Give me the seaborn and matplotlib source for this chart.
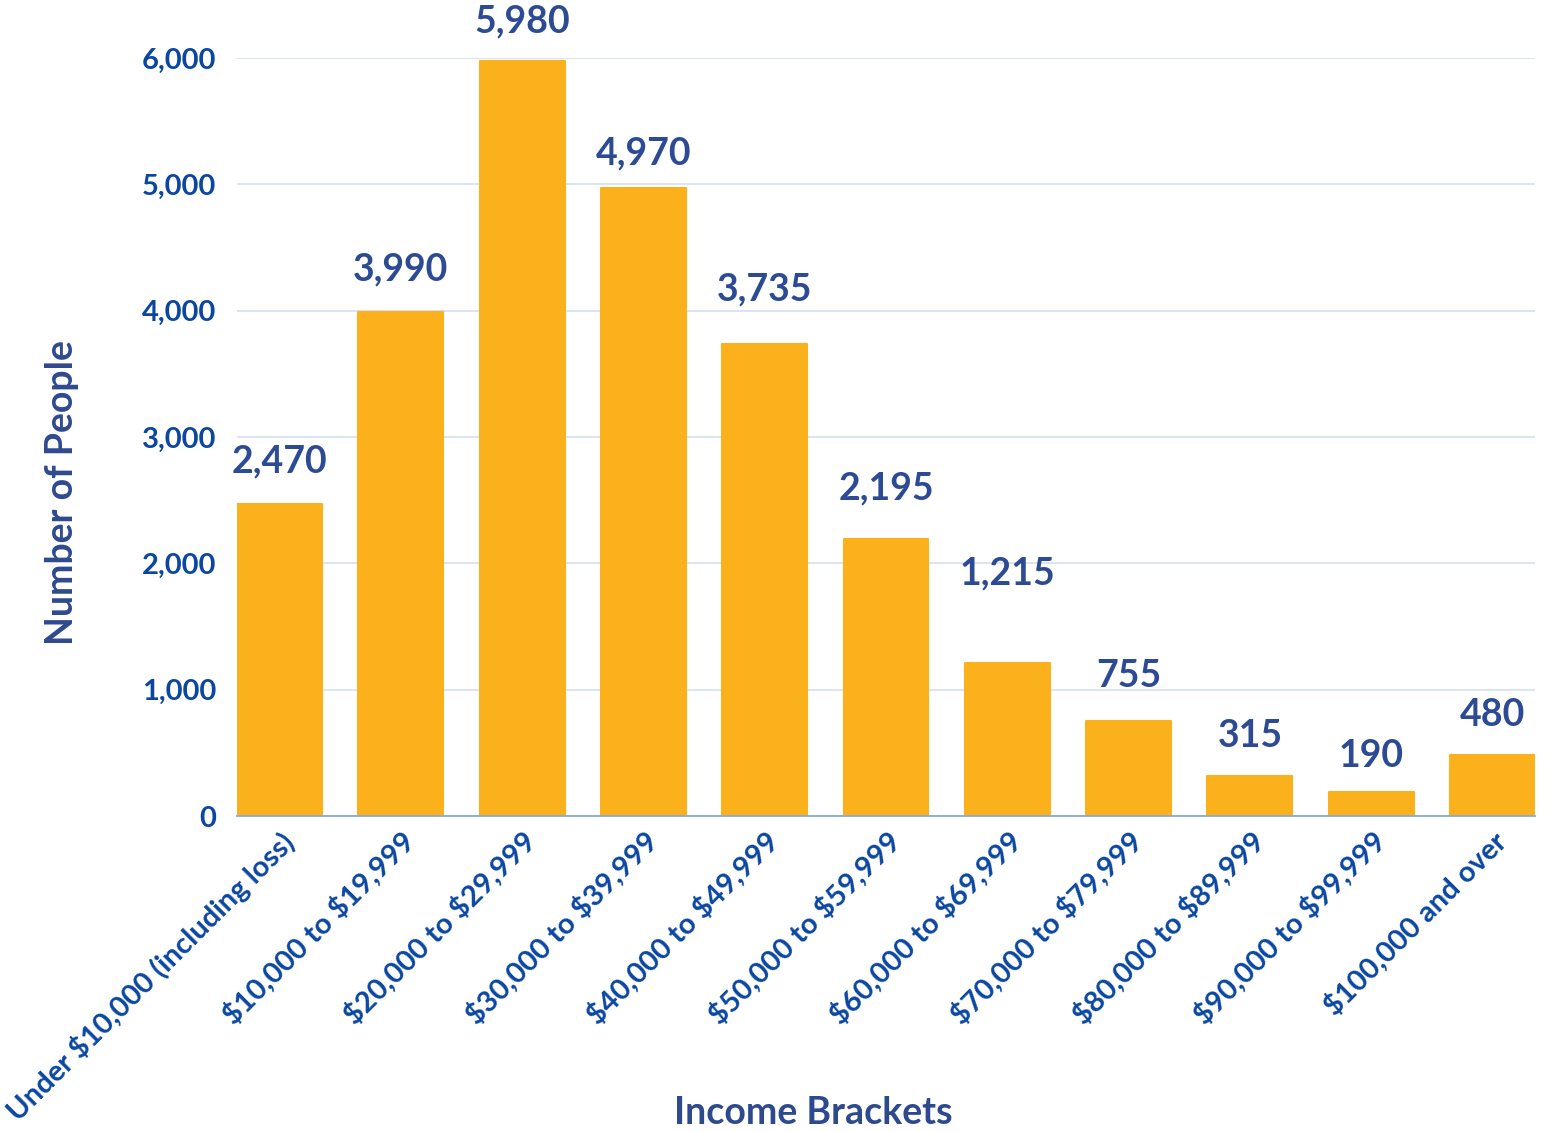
import matplotlib
matplotlib.use("Agg")
import matplotlib.pyplot as plt
import seaborn as sns
import pandas as pd
from matplotlib.ticker import FuncFormatter, MultipleLocator

categories = ["Under $10,000 (including loss)", "$10,000 to $19,999", "$20,000 to $29,999",
              "$30,000 to $39,999", "$40,000 to $49,999", "$50,000 to $59,999",
              "$60,000 to $69,999", "$70,000 to $79,999", "$80,000 to $89,999",
              "$90,000 to $99,999", "$100,000 and over"]
people = [2470, 3990, 5980, 4970, 3735, 2195, 1215, 755, 315, 190, 480]
# label gap above bar (points), per bar, as in the reference
label_gap = [18, 18, 16, 13, 27, 24, 52, 20, 17, 14, 17]

BAR = "#FBB11C"
TICK = "#0B47A1"
VAL = "#2C4B94"
TITLE = "#2E4A8E"

sns.set_theme(style="white")
plt.rcParams["font.family"] = ["Lato", "DejaVu Sans"]
plt.rcParams["text.parse_math"] = False

df = pd.DataFrame({"cat": categories, "n": people})
fig = plt.figure(figsize=(15.51, 11.31), dpi=100)
ax = fig.add_axes([0.1528, 0.2785, 0.8369, 0.6702])
sns.barplot(data=df, x="cat", y="n", color=BAR, saturation=1, width=0.7, ax=ax, zorder=3)
for p in ax.patches:
    p.set_edgecolor(BAR)
    p.set_linewidth(1.5)
    p.set_joinstyle("round")

ax.set_xlim(-0.35, len(categories) - 0.65)
ax.set_ylim(0, 6000)
ax.yaxis.set_major_locator(MultipleLocator(1000))
ax.yaxis.set_major_formatter(FuncFormatter(lambda v, _: f"{int(v):,}"))
ax.grid(axis="y", color="#D3DFF3", linewidth=1.2, zorder=0)
for s in ["top", "right", "left"]:
    ax.spines[s].set_visible(False)
ax.spines["bottom"].set_color("#86A9DE")
ax.spines["bottom"].set_linewidth(1.3)
ax.spines["bottom"].set_zorder(4)
ax.tick_params(axis="both", length=0)
ax.tick_params(axis="y", pad=15, labelsize=21, labelcolor=TICK)
ax.tick_params(axis="x", pad=8, labelsize=21, labelcolor=TICK)
for t in ax.get_yticklabels():
    t.set_fontweight("bold")
for t in ax.get_xticklabels():
    t.set_fontweight("bold")
    t.set_rotation(45)
    t.set_ha("right")
    t.set_rotation_mode("anchor")

for i, (v, g) in enumerate(zip(people, label_gap)):
    ax.annotate(f"{v:,}", xy=(i, v), xytext=(0, g), textcoords="offset points",
                ha="center", va="bottom", fontsize=27, fontweight="bold", color=VAL)

ax.set_xlabel("Income Brackets", fontsize=27, fontweight="bold", color=TITLE)
ax.set_ylabel("Number of People", fontsize=27, fontweight="bold", color=TITLE)
ax.xaxis.set_label_coords(0.444, -0.392)
ax.yaxis.set_label_coords(-0.135, 0.427)
ax.xaxis.label.set_va("center")
ax.yaxis.label.set_va("center")
ax.yaxis.label.set_rotation_mode("default")

fig.savefig("out.png", dpi=100, facecolor="white")
